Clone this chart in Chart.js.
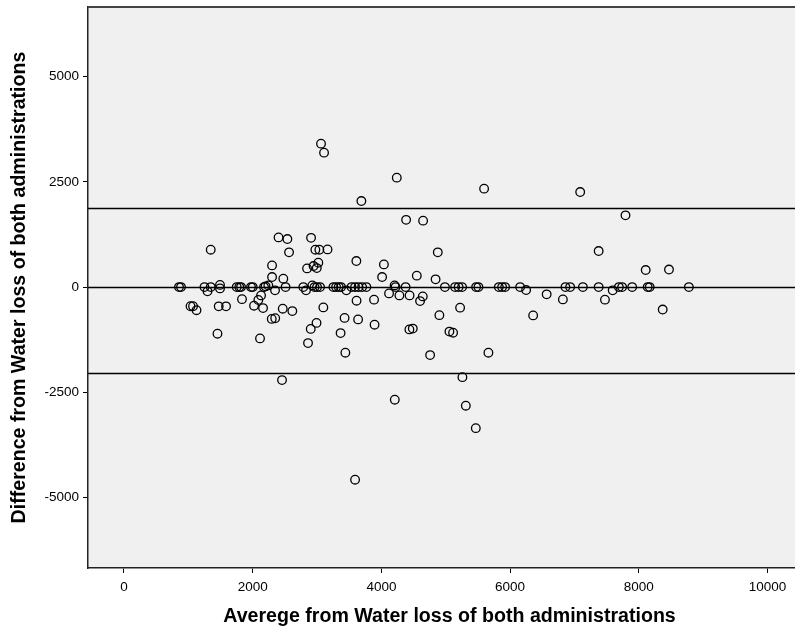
<!DOCTYPE html>
<html>
<head>
<meta charset="utf-8">
<script src="https://cdn.jsdelivr.net/npm/chart.js@4/dist/chart.umd.min.js"></script>
<style>
  html, body { margin: 0; padding: 0; background: #fff; }
  #wrap { width: 795px; height: 632px; }
</style>
</head>
<body>
<div id="wrap"><canvas id="c" width="795" height="632"></canvas></div>
<script>
// Bland-Altman style scatter: mean of both administrations vs their difference.
const FONT = "'Liberation Sans', Arial, sans-serif";

// points sitting on (or right next to) the zero line
const avgZero  = [855, 886, 1251, 1298, 1348, 1492, 1492, 1752, 1792, 1819, 1974, 2001, 2176, 2200, 2243, 2347,
                  2511, 2787, 2829, 2927, 2961, 3000, 3047, 3254, 3296, 3337, 3373, 3456, 3536, 3591, 3645, 3700,
                  3767, 4119, 4205, 4220, 4280, 4376, 4438, 4987, 5145, 5200, 5254, 5472, 5508, 5825, 5876, 5923,
                  6156, 6249, 6568, 6860, 6933, 7131, 7376, 7594, 7690, 7741, 7897, 8138, 8169, 8778];
const diffZero = [0, 0, 0, -102, 0, 52, -31, 0, 0, 0, 0, 0, 0, 17, 40, -78,
                  0, 0, -78, 40, 0, 0, 0, 0, 0, 0, 0, -78, 0, 0, 0, 0,
                  0, -150, 40, 0, -197, 0, -197, 0, 0, 0, 0, 0, 0, 0, 0, 0,
                  0, -71, -173, 0, 0, 0, 0, -78, 0, 0, 0, 0, 0, 0];

// the scattered rest
const avgOther  = [1348, 1034, 1073, 1127, 1472, 1586, 1453, 1834, 2021, 2088, 2130, 2161, 2114, 2301, 2301, 2476,
                   2402, 2539, 2565, 2907, 2974, 3036, 3163, 2845, 2946, 2996, 3020, 3611, 4039, 4011, 2467, 2616,
                   2296, 2350, 3098, 3614, 3886, 3428, 3638, 2992, 2902, 3894, 3366, 2860, 3440, 2456, 3591, 4208,
                   3062, 3109, 3689, 4239, 4384, 4648, 4876, 4550, 4842, 4601, 4643, 5223, 4901, 6358, 4435, 4488,
                   5057, 5114, 4757, 5663, 5259, 5312, 5467, 5596, 7089, 7793, 7376, 8107, 8469, 6820, 7474, 8371];
const diffOther = [888, -454, -454, -549, -458, -458, -1107, -287, -442, -304, -197, -499, -1218, 515, 238, 200,
                   1180, 1140, 824, 1169, 888, 888, 895, 444, 499, 451, 580, 618, 539, 238, -513, -570,
                   -755, -739, -482, -323, -299, -732, -767, -850, -993, -893, -1093, -1330, -1558, -2209, -4574, -2674,
                   3406, 3192, 2043, 2598, 1596, 1577, 824, 271, 183, -333, -221, -489, -667, -672, -1005, -986,
                   -1057, -1083, -1615, -1558, -2138, -2817, -3349, 2337, 2256, 1703, 855, 404, 416, -292, -299, -534];

// upper limit, zero, lower limit
const refLines = [1886, 0, -2043];

const xTicks = [0, 2000, 4000, 6000, 8000, 10000];
const yTicks = [-5000, -2500, 0, 2500, 5000];
const xRange = [-559, 10427], yRange = [-6670, 6650];
const xTitle = "Averege from Water loss of both administrations";
const yTitle = "Difference from Water loss of both administrations";

const avgAll = avgZero.concat(avgOther), diffAll = diffZero.concat(diffOther);
const pts = avgAll.map((x, i) => ({x, y: diffAll[i]}));

const frame = {
  id: "frame",
  beforeDraw(chart) {
    const {ctx, chartArea: a} = chart;
    ctx.save();
    ctx.fillStyle = "#f0f0f0";
    ctx.fillRect(a.left, a.top, a.right - a.left, a.bottom - a.top);
    ctx.restore();
  },
  beforeDatasetsDraw(chart) {
    const {ctx, chartArea: a, scales: {y}} = chart;
    ctx.save();
    ctx.strokeStyle = "#000"; ctx.lineWidth = 1.3;
    refLines.forEach(v => {
      const py = Math.round(y.getPixelForValue(v)) + 0.5;
      ctx.beginPath(); ctx.moveTo(a.left, py); ctx.lineTo(a.right, py); ctx.stroke();
    });
    // top edge of the plot frame
    ctx.strokeStyle = "#444"; ctx.lineWidth = 2;
    ctx.beginPath(); ctx.moveTo(a.left, a.top); ctx.lineTo(a.right, a.top); ctx.stroke();
    ctx.restore();
  },
  afterDraw(chart) {
    // x title sits a little right of the visible plot centre (SPSS crop)
    const {ctx, chartArea: a} = chart;
    ctx.save();
    ctx.fillStyle = "#000"; ctx.font = "bold 19.6px " + FONT;
    ctx.textAlign = "center"; ctx.textBaseline = "middle";
    ctx.fillText(xTitle, (a.left + a.right) / 2 + 8, 617);
    ctx.restore();
  }
};

const fixTicks = list => s => { s.ticks = list.map(value => ({value})); };

new Chart(document.getElementById("c"), {
  type: "scatter",
  data: { datasets: [{ data: pts, pointStyle: "circle", pointRadius: 4.3, borderWidth: 1.3,
                       borderColor: "#000", backgroundColor: "rgba(0,0,0,0)", pointHoverRadius: 4.3 }] },
  options: {
    responsive: false, animation: false, events: [],
    layout: { autoPadding: false, padding: { top: 7, right: 0, left: 0, bottom: 0 } },
    plugins: { legend: { display: false }, tooltip: { enabled: false } },
    scales: {
      x: {
        type: "linear", min: xRange[0], max: xRange[1],
        afterBuildTicks: fixTicks(xTicks),
        afterFit: s => { s.height = 64; s.paddingRight = 0; },
        ticks: { color: "#000", padding: 6, maxRotation: 0, autoSkip: false, callback: v => String(v),
                 font: { family: FONT, size: 13.5 } },
        grid: { drawOnChartArea: false, drawTicks: true, tickLength: 5, color: "#000" },
        border: { display: true, color: "#222", width: 1.5 },
        title: { display: false }
      },
      y: {
        type: "linear", min: yRange[0], max: yRange[1],
        afterBuildTicks: fixTicks(yTicks),
        afterFit: s => { s.width = 88; s.paddingTop = 0; s.paddingBottom = 0; },
        ticks: { color: "#000", padding: 4, autoSkip: false, callback: v => String(v),
                 font: { family: FONT, size: 13.5 } },
        grid: { drawOnChartArea: false, drawTicks: true, tickLength: 5, color: "#000" },
        border: { display: true, color: "#222", width: 1.5 },
        title: { display: true, text: yTitle, color: "#000", padding: { top: 8 },
                 font: { family: FONT, size: 19.6, weight: "bold" } }
      }
    }
  },
  plugins: [frame]
});
</script>
</body>
</html>
